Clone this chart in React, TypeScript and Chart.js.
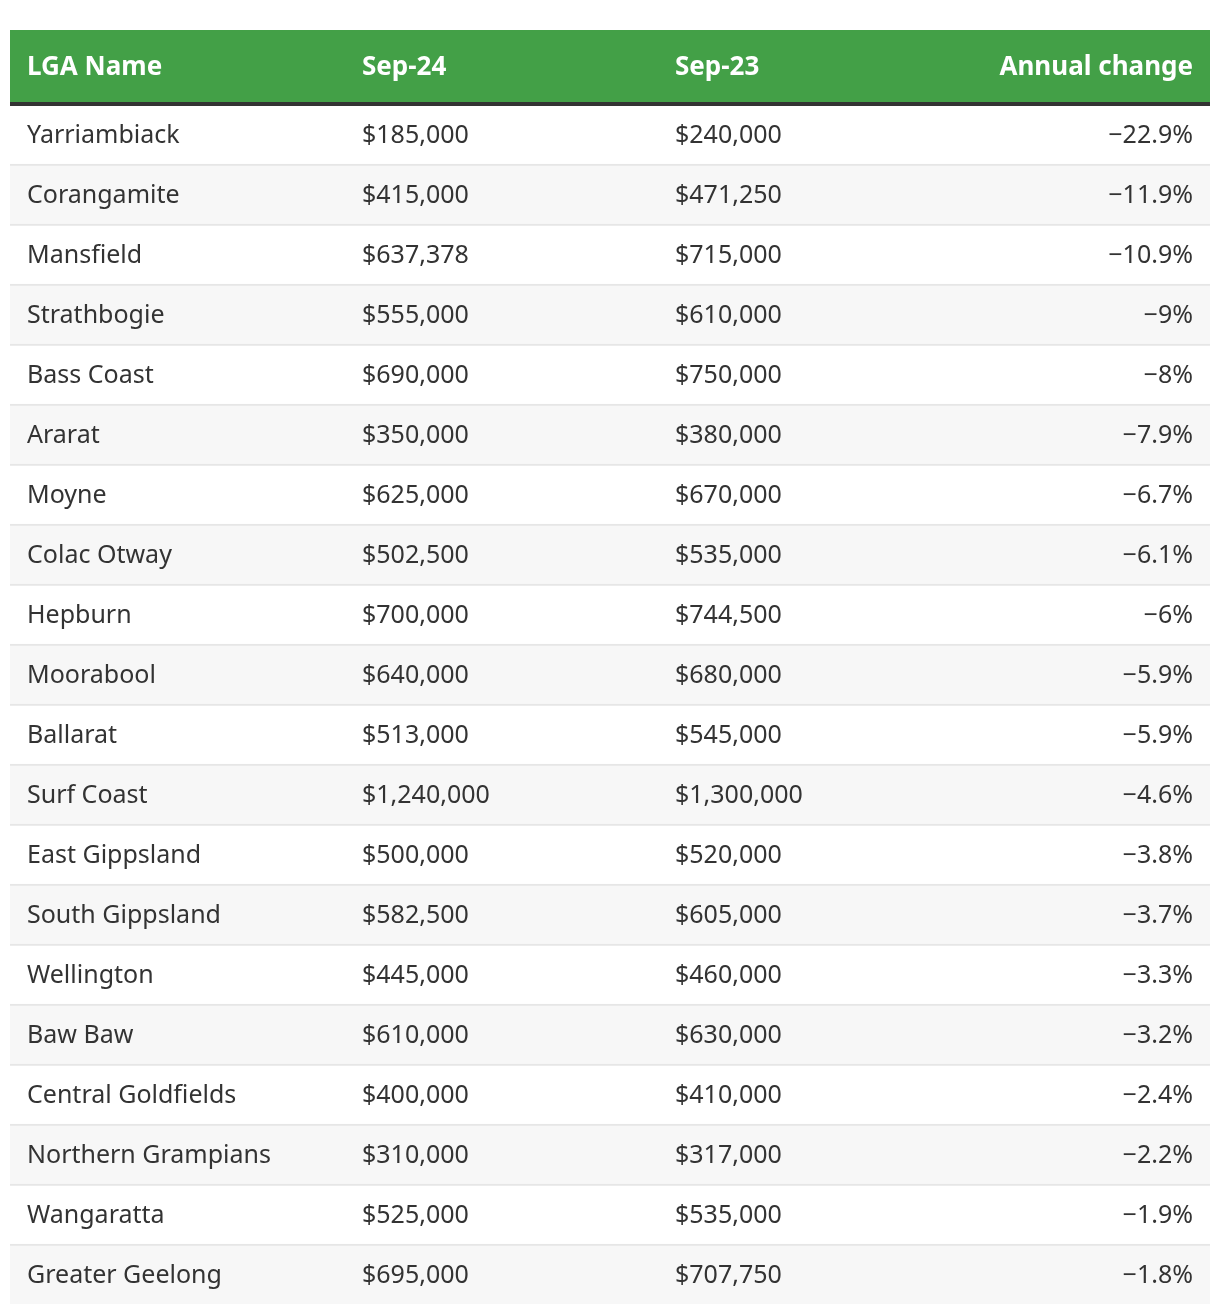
import React, { useEffect, useRef } from "react";
import { Chart, registerables } from "chart.js";

Chart.register(...registerables);

const headers = ["LGA Name", "Sep-24", "Sep-23", "Annual change"];
const lgaNames = [
  "Yarriambiack", "Corangamite", "Mansfield", "Strathbogie", "Bass Coast",
  "Ararat", "Moyne", "Colac Otway", "Hepburn", "Moorabool",
  "Ballarat", "Surf Coast", "East Gippsland", "South Gippsland", "Wellington",
  "Baw Baw", "Central Goldfields", "Northern Grampians", "Wangaratta", "Greater Geelong",
];
const sep24 = [
  185000, 415000, 637378, 555000, 690000, 350000, 625000, 502500, 700000, 640000,
  513000, 1240000, 500000, 582500, 445000, 610000, 400000, 310000, 525000, 695000,
];
const sep23 = [
  240000, 471250, 715000, 610000, 750000, 380000, 670000, 535000, 744500, 680000,
  545000, 1300000, 520000, 605000, 460000, 630000, 410000, 317000, 535000, 707750,
];
const annualChange = [
  -22.9, -11.9, -10.9, -9, -8, -7.9, -6.7, -6.1, -6, -5.9,
  -5.9, -4.6, -3.8, -3.7, -3.3, -3.2, -2.4, -2.2, -1.9, -1.8,
];

const FONT = "'Noto Sans', 'Open Sans', sans-serif";
const GREEN = "#43a047";
const TEXT = "#333333";
const TABLE_W = 1200;
// column anchors on the x scale (0..TABLE_W)
const COL_X = [17, 352, 665, 1183];
const COL_ALIGN: CanvasTextAlign[] = ["left", "left", "left", "right"];

const fmtMoney = (v: number) => "$" + v.toLocaleString("en-US");
const fmtPct = (v: number) => (v < 0 ? "\u2212" : "") + Math.abs(v) + "%";

const tablePlugin = {
  id: "tableText",
  afterDatasetsDraw(chart: any) {
    const { ctx, scales } = chart;
    const xs = scales.x;
    const ys = scales.y;
    const left = xs.getPixelForValue(0);
    const right = xs.getPixelForValue(TABLE_W);
    const firstTop = ys.getPixelForValue(0) - 30;
    ctx.save();
    // header
    ctx.fillStyle = GREEN;
    ctx.fillRect(left, 30, right - left, firstTop - 2 - 30);
    ctx.fillStyle = "#333333";
    ctx.fillRect(left, firstTop - 2, right - left, 4);
    ctx.font = `bold 26px ${FONT}`;
    ctx.fillStyle = "#ffffff";
    ctx.textBaseline = "middle";
    headers.forEach((h, c) => {
      ctx.textAlign = COL_ALIGN[c];
      ctx.fillText(h, xs.getPixelForValue(COL_X[c]), 68);
    });
    // body
    ctx.font = `25px ${FONT}`;
    ctx.fillStyle = TEXT;
    lgaNames.forEach((name, i) => {
      const y = ys.getPixelForValue(i) + 2;
      const cells = [name, fmtMoney(sep24[i]), fmtMoney(sep23[i]), fmtPct(annualChange[i])];
      cells.forEach((t, c) => {
        ctx.textAlign = COL_ALIGN[c];
        ctx.fillText(t, xs.getPixelForValue(COL_X[c]), y);
      });
    });
    ctx.restore();
  },
};

export default function App() {
  const ref = useRef<HTMLCanvasElement>(null);
  useEffect(() => {
    if (!ref.current) return;
    const chart = new Chart(ref.current, {
      type: "bar",
      data: {
        labels: lgaNames,
        datasets: [
          {
            data: lgaNames.map(() => [0, TABLE_W]) as any,
            backgroundColor: lgaNames.map((_, i) => (i % 2 === 0 ? "#ffffff" : "#f7f7f7")),
            borderColor: lgaNames.map((_, i) => (i === 0 ? "#333333" : "#e6e6e6")),
            borderWidth: { top: 2, bottom: 0, left: 0, right: 0 },
            borderSkipped: false,
            barPercentage: 1,
            categoryPercentage: 1,
          },
        ],
      },
      options: {
        indexAxis: "y",
        responsive: false,
        animation: false,
        events: [],
        layout: { padding: { left: 10, right: 10, top: 104, bottom: 10 } },
        plugins: { legend: { display: false }, tooltip: { enabled: false } },
        scales: {
          x: { type: "linear", min: 0, max: TABLE_W, display: false },
          y: { type: "category", offset: true, display: false },
        },
      },
      plugins: [tablePlugin],
    });
    return () => chart.destroy();
  }, []);
  return (
    <div style={{ position: "absolute", left: 0, top: 0, width: 1220, height: 1314, background: "#fff" }}>
      <canvas ref={ref} width={1220} height={1314} style={{ display: "block" }} />
    </div>
  );
}
